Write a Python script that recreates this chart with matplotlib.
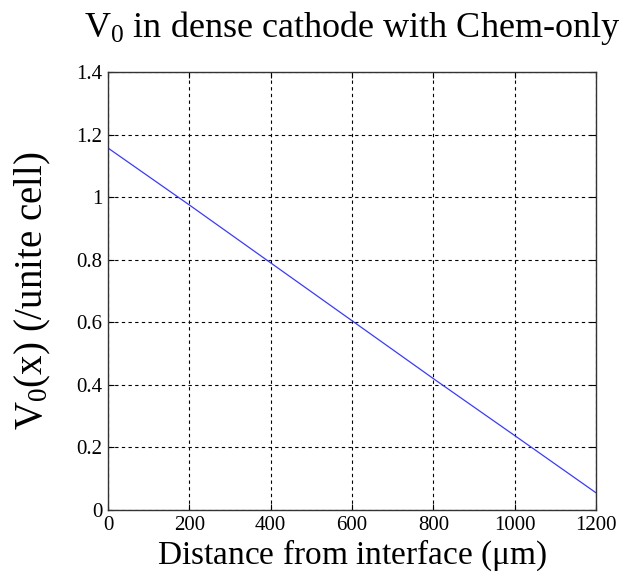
import matplotlib
matplotlib.use("Agg")
from matplotlib import pyplot as plt


# values
distance = [0, 200, 400, 600, 800, 1000, 1200]
vo = [1.157, 0.975, 0.790, 0.605, 0.420, 0.238, 0.055]

x_ticks = [0, 200, 400, 600, 800, 1000, 1200]
y_ticks = [0, 0.2, 0.4, 0.6, 0.8, 1.0, 1.2, 1.4]
y_tick_labels = ["0", "0.2", "0.4", "0.6", "0.8", "1", "1.2", "1.4"]


if __name__ == '__main__':
    plt.rcParams['font.family'] = ['Liberation Serif', 'DejaVu Serif']
    plt.rcParams['mathtext.fontset'] = 'custom'
    plt.rcParams['mathtext.rm'] = 'Liberation Serif'
    plt.rcParams['mathtext.it'] = 'Liberation Serif'

    fig = plt.figure(figsize=(6.28, 5.77), dpi=100)
    ax = fig.add_axes([108 / 628, (577 - 510) / 577, (596 - 108) / 628, (510 - 72) / 577])

    ax.plot(distance, vo, color='#3a3aff', linewidth=0.9)

    ax.set_xlim(0, 1200)
    ax.set_ylim(0, 1.4)
    ax.set_xticks(x_ticks)
    ax.set_yticks(y_ticks)
    ax.set_yticklabels(y_tick_labels)
    ax.tick_params(direction='in', length=4, labelsize=15, pad=4, top=True, right=True)
    ax.grid(True, color='black', linestyle=(0, (3, 3)), linewidth=0.8)
    for side in ax.spines.values():
        side.set_color('#333333')
        side.set_linewidth(1.0)

    ax.set_xlabel(r'Distance from interface ($\mu$m)', fontsize=24, labelpad=2)
    ax.set_ylabel(r'V$_{\rm 0}$(x) (/unite cell)', fontsize=28, labelpad=17)
    ax.set_title(r'V$_{\rm 0}$ in dense cathode with Chem-only', fontsize=26, pad=25)

    fig.savefig('out.png', dpi=100)
